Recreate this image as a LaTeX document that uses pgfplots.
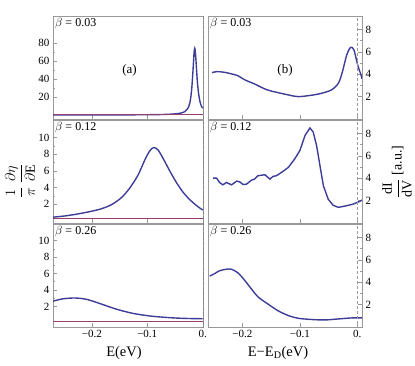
\documentclass[border=0pt]{standalone}
\usepackage{fontspec}
\setmainfont{Liberation Serif}
\usepackage{pgfplots}
\pgfplotsset{compat=1.18}
\definecolor{mblue}{rgb}{0.24,0.24,0.6}
\definecolor{mred}{rgb}{0.6,0.24,0.443}
\definecolor{frame}{gray}{0.6}

\tikzset{
  beta/.style={anchor=north west, inner sep=2pt, font=\fontsize{12}{14}\selectfont},
  blueline/.style={mblue, line width=1.4pt},
  redline/.style={mred, line width=1.3pt},
}
\pgfplotsset{
  panel/.style={
    scale only axis,
    axis line style={frame},
    every tick/.style={frame, thin},
    tick align=inside,
    major tick length=4pt, minor tick length=2pt,
    xtick={-0.2,-0.1,0}, xtick pos=left,
    xticklabels={},
    minor y tick num=1,
    tick label style={font=\fontsize{11}{13}\selectfont},
    /pgf/number format/assume math mode=true,
  },
  leftp/.style={panel, width=150pt, height=103pt, xmin=-0.27, xmax=0.0005, ytick pos=left},
  rightp/.style={panel, width=154pt, height=103pt, xmin=-0.26, xmax=0.0082,
    ytick pos=right, yticklabel pos=right, ymin=0, ymax=9.2, ytick={2,4,6,8}},
}

\begin{document}
\begin{tikzpicture}
\useasboundingbox (0,0) rectangle (415pt,365pt);

% ---- left column: theory
\begin{axis}[leftp, at={(53pt,246pt)}, anchor=south west, ymin=-4.5, ymax=110, ytick={20,40,60,80}]
\addplot[blueline, smooth] coordinates {(-0.27,0.03) (-0.2,0.05) (-0.15,0.1) (-0.1,0.25) (-0.07,0.55) (-0.05,1.2) (-0.04,2.0) (-0.032,3.8) (-0.027,7) (-0.023,14) (-0.020,28) (-0.018,45) (-0.0165,60) (-0.0155,70) (-0.0144,74) (-0.0133,70) (-0.0118,57) (-0.0098,38) (-0.0075,24) (-0.005,15) (-0.0025,10) (0,7.5)};
\addplot[redline] coordinates {(-0.28,0.3) (0.01,0.3)};
\addplot[black, thin, dash pattern=on 3pt off 2pt] coordinates {(0,-10) (0,200)};
\node[beta] at (rel axis cs:0,1) {$\beta$ = 0.03};
\node[font=\fontsize{13}{15}\selectfont] at (rel axis cs:0.51,0.47) {(a)};
\end{axis}

\begin{axis}[leftp, at={(53pt,142pt)}, anchor=south west, ymin=-0.25, ymax=12.1, ytick={2,4,6,8,10}]
\addplot[blueline, smooth] coordinates {(-0.27,0.45) (-0.2456,0.62) (-0.2157,0.95) (-0.1856,1.4) (-0.1645,1.95) (-0.1465,2.8) (-0.1315,3.95) (-0.1166,5.5) (-0.1045,7.3) (-0.0955,8.4) (-0.0883,8.8) (-0.0805,8.5) (-0.0715,7.5) (-0.0595,6.0) (-0.0474,4.6) (-0.0355,3.45) (-0.0234,2.55) (-0.0114,1.85) (0,1.3)};
\addplot[redline] coordinates {(-0.28,0.33) (0.01,0.33)};
\addplot[black, thin, dash pattern=on 3pt off 2pt] coordinates {(0,-10) (0,200)};
\node[beta] at (rel axis cs:0,1) {$\beta$ = 0.12};
\end{axis}

\begin{axis}[leftp, at={(53pt,38pt)}, anchor=south west, ymin=-0.5, ymax=12, ytick={2,4,6,8,10},
  xticklabels={−0.2,−0.1,0.}]
\addplot[blueline, smooth] coordinates {(-0.27,2.64) (-0.252,2.92) (-0.2306,3.02) (-0.2096,2.86) (-0.1856,2.35) (-0.1555,1.66) (-0.1256,1.15) (-0.0955,0.84) (-0.0654,0.66) (-0.0355,0.55) (0,0.5)};
\addplot[redline] coordinates {(-0.28,0.15) (0.01,0.15)};
\addplot[black, thin, dash pattern=on 3pt off 2pt] coordinates {(0,-10) (0,200)};
\node[beta] at (rel axis cs:0,1) {$\beta$ = 0.26};
\end{axis}

% ---- right column: experiment
\begin{axis}[rightp, at={(208pt,246pt)}, anchor=south west]
\addplot[blueline, smooth] coordinates {(-0.253,4.14) (-0.245,4.23) (-0.231,4.17) (-0.213,3.95) (-0.208,3.87) (-0.196,3.5) (-0.179,3.13) (-0.158,2.62) (-0.141,2.39) (-0.12,2.15) (-0.103,2.0) (-0.08,2.12) (-0.062,2.3) (-0.045,2.6) (-0.033,3.19) (-0.026,4.2) (-0.0185,5.7) (-0.0116,6.4) (-0.0058,6.16) (0.0007,4.82) (0.0065,3.93) (0.0082,3.6)};
\addplot[frame, semithick, dash pattern=on 3pt off 2pt] coordinates {(0,-10) (0,200)};
\node[beta] at (rel axis cs:0,1) {$\beta$ = 0.03};
\node[font=\fontsize{13}{15}\selectfont] at (rel axis cs:0.5,0.47) {(b)};
\end{axis}

\begin{axis}[rightp, at={(208pt,142pt)}, anchor=south west]
\addplot[blueline] coordinates {(-0.251,4.01) (-0.245,4.01) (-0.240,3.62) (-0.234,3.41) (-0.228,3.62) (-0.219,3.41) (-0.210,3.74) (-0.205,3.68) (-0.199,3.44) (-0.193,3.47) (-0.184,3.83) (-0.179,3.92) (-0.173,4.22) (-0.161,4.31) (-0.152,3.92) (-0.147,4.16) (-0.141,4.22) (-0.132,4.52) (-0.12,4.97) (-0.109,5.72) (-0.1,6.47) (-0.091,7.82) (-0.0825,8.49) (-0.0768,8.13) (-0.0709,6.92) (-0.065,5.12) (-0.059,3.32) (-0.0506,2.12) (-0.042,1.58) (-0.033,1.4) (-0.0215,1.51) (-0.007,1.69) (0.0047,1.94) (0.0082,2.05)};
\addplot[frame, semithick, dash pattern=on 3pt off 2pt] coordinates {(0,-10) (0,200)};
\node[beta] at (rel axis cs:0,1) {$\beta$ = 0.12};
\end{axis}

\begin{axis}[rightp, at={(208pt,38pt)}, anchor=south west, xticklabels={−0.2,−0.1,0.}]
\addplot[blueline, smooth] coordinates {(-0.257,4.55) (-0.248,4.78) (-0.240,5.02) (-0.228,5.16) (-0.219,5.16) (-0.208,4.84) (-0.199,4.35) (-0.187,3.57) (-0.173,2.7) (-0.155,2.03) (-0.138,1.45) (-0.12,1.02) (-0.103,0.78) (-0.0796,0.67) (-0.0564,0.63) (-0.033,0.72) (-0.0098,0.81) (0.0082,0.81)};
\addplot[frame, semithick, dash pattern=on 3pt off 2pt] coordinates {(0,-10) (0,200)};
\node[beta] at (rel axis cs:0,1) {$\beta$ = 0.26};
\end{axis}

% ---- axis labels
\node[font=\fontsize{14.5}{16}\selectfont] at (124pt,12pt) {E(eV)};
\node[font=\fontsize{14.5}{16}\selectfont] at (278pt,12pt) {E−E\textsubscript{D}(eV)};
\node[rotate=90, font=\fontsize{14}{16}\selectfont] at (20pt,184pt) {$\displaystyle\frac{1}{\pi}\;\frac{\partial\eta}{\partial\mathrm{E}}$};
\node[rotate=90, font=\fontsize{14}{16}\selectfont] at (397pt,193pt) {$\displaystyle\frac{\mathrm{dI}}{\mathrm{dV}}$ [a.u.]};
\end{tikzpicture}
\end{document}
